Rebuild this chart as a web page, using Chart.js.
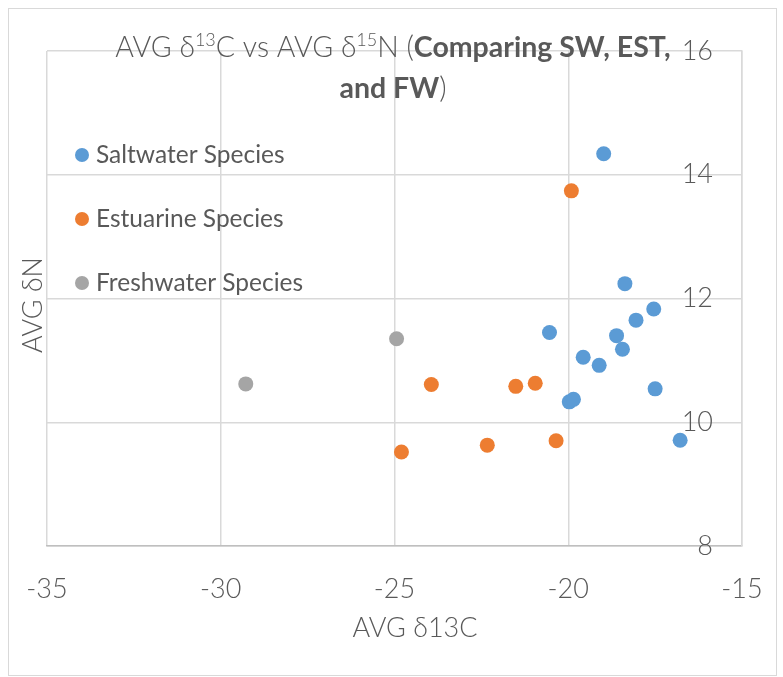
<!DOCTYPE html>
<html>
<head>
<meta charset="utf-8">
<script src="https://cdn.jsdelivr.net/npm/chart.js@4.4.1/dist/chart.umd.min.js"></script>
<style>
  body { margin: 0; background: #fff; }
  canvas { display: block; }
</style>
</head>
<body>
<canvas id="chart" width="783" height="677"></canvas>
<script>
// data
var seriesNames = ['Saltwater Species', 'Estuarine Species', 'Freshwater Species'];
var saltX = [-18.98, -18.37, -17.54, -18.05, -20.54, -18.61, -18.44, -19.57, -19.11, -17.50, -19.97, -19.85, -16.78];
var saltY = [14.34, 12.24, 11.83, 11.65, 11.45, 11.40, 11.18, 11.05, 10.92, 10.54, 10.33, 10.37, 9.71];
var estX = [-19.91, -23.94, -21.51, -20.95, -24.80, -22.33, -20.35];
var estY = [13.74, 10.61, 10.58, 10.63, 9.52, 9.63, 9.70];
var freshX = [-24.94, -29.28];
var freshY = [11.35, 10.62];
var xTicks = [-35, -30, -25, -20, -15];
var yTicks = [8, 10, 12, 14, 16];

var colors = ['#5B9BD5', '#ED7D31', '#A5A5A5'];
var textColor = '#595959';
var gridColor = '#D9D9D9';
var fontName = 'Lato';

function pts(xs, ys) {
  var out = [];
  for (var i = 0; i < xs.length; i++) {
    out.push({ x: xs[i], y: ys[i] });
  }
  return out;
}

// title, axis titles, legend and outer frame drawn by hand
var extras = {
  id: 'extras',
  beforeDraw: function(chart) {
    var ctx = chart.ctx;
    ctx.save();
    ctx.strokeStyle = gridColor;
    ctx.lineWidth = 1;
    ctx.strokeRect(8.5, 8.5, 768, 667);
    ctx.restore();
  },
  afterDraw: function(chart) {
    var ctx = chart.ctx;
    ctx.save();
    ctx.fillStyle = textColor;
    ctx.textBaseline = 'middle';

    // title, mixed weights and superscripts
    var line1 = [
      ['AVG δ', 300, 28.5, 0], ['13', 300, 18, -8], ['C vs AVG δ', 300, 28.5, 0], ['15', 300, 18, -8],
      ['N (', 300, 28.5, 0], ['Comparing SW, EST,', 700, 28.5, 0]
    ];
    var line2 = [['and FW', 700, 28.5, 0], [')', 300, 28.5, 0]];
    function drawLine(parts, cx, cy) {
      var w = 0;
      parts.forEach(function(p) {
        ctx.font = p[1] + ' ' + p[2] + 'px ' + fontName;
        w += ctx.measureText(p[0]).width;
      });
      var x = cx - w / 2;
      ctx.textAlign = 'left';
      parts.forEach(function(p) {
        ctx.font = p[1] + ' ' + p[2] + 'px ' + fontName;
        ctx.fillText(p[0], x, cy + p[3]);
        x += ctx.measureText(p[0]).width;
      });
    }
    drawLine(line1, 393, 48);
    drawLine(line2, 393, 89);

    // axis titles
    ctx.font = '300 27px ' + fontName;
    ctx.textAlign = 'center';
    ctx.fillText('AVG δ13C', 415, 628);
    ctx.save();
    ctx.translate(33, 305);
    ctx.rotate(-Math.PI / 2);
    ctx.fillText('AVG δN', 0, 0);
    ctx.restore();

    // legend
    var rows = [155, 219, 283];
    ctx.textAlign = 'left';
    ctx.font = '400 24.5px ' + fontName;
    for (var i = 0; i < seriesNames.length; i++) {
      ctx.fillStyle = colors[i];
      ctx.beginPath();
      ctx.arc(82, rows[i], 7, 0, Math.PI * 2);
      ctx.fill();
      ctx.fillStyle = textColor;
      ctx.fillText(seriesNames[i], 96, rows[i]);
    }
    ctx.restore();
  }
};

var ctx = document.getElementById('chart');
new Chart(ctx, {
  type: 'scatter',
  data: {
    datasets: [
      { label: seriesNames[0], data: pts(saltX, saltY), backgroundColor: colors[0], borderWidth: 0, pointRadius: 7.5 },
      { label: seriesNames[1], data: pts(estX, estY), backgroundColor: colors[1], borderWidth: 0, pointRadius: 7.5 },
      { label: seriesNames[2], data: pts(freshX, freshY), backgroundColor: colors[2], borderWidth: 0, pointRadius: 7.5 }
    ]
  },
  options: {
    responsive: false,
    animation: false,
    layout: { padding: { top: 51, left: 47, right: 41, bottom: 33 } },
    plugins: {
      legend: { display: false },
      title: { display: false },
      tooltip: { enabled: false }
    },
    scales: {
      x: {
        type: 'linear',
        min: xTicks[0],
        max: xTicks[xTicks.length - 1],
        afterBuildTicks: function(axis) { axis.ticks = xTicks.map(function(v) { return { value: v }; }); },
        afterFit: function(axis) { axis.height = 98; axis.paddingLeft = 0; axis.paddingRight = 0; },
        ticks: { color: textColor, font: { family: fontName, size: 27, weight: 300 }, padding: 27 },
        grid: { color: gridColor, lineWidth: 1.5, drawTicks: false },
        border: { color: '#BFBFBF', width: 1.5 }
      },
      y: {
        type: 'linear',
        position: 'right',
        min: yTicks[0],
        max: yTicks[yTicks.length - 1],
        afterBuildTicks: function(axis) { axis.ticks = yTicks.map(function(v) { return { value: v }; }); },
        afterFit: function(axis) { axis.width = 0; axis.paddingTop = 0; axis.paddingBottom = 0; },
        ticks: { mirror: true, padding: -29, color: textColor, font: { family: fontName, size: 27, weight: 300 } },
        grid: { color: gridColor, lineWidth: 1.5, drawTicks: false },
        border: { color: gridColor, width: 1.5 }
      }
    }
  },
  plugins: [extras]
});
</script>
</body>
</html>
